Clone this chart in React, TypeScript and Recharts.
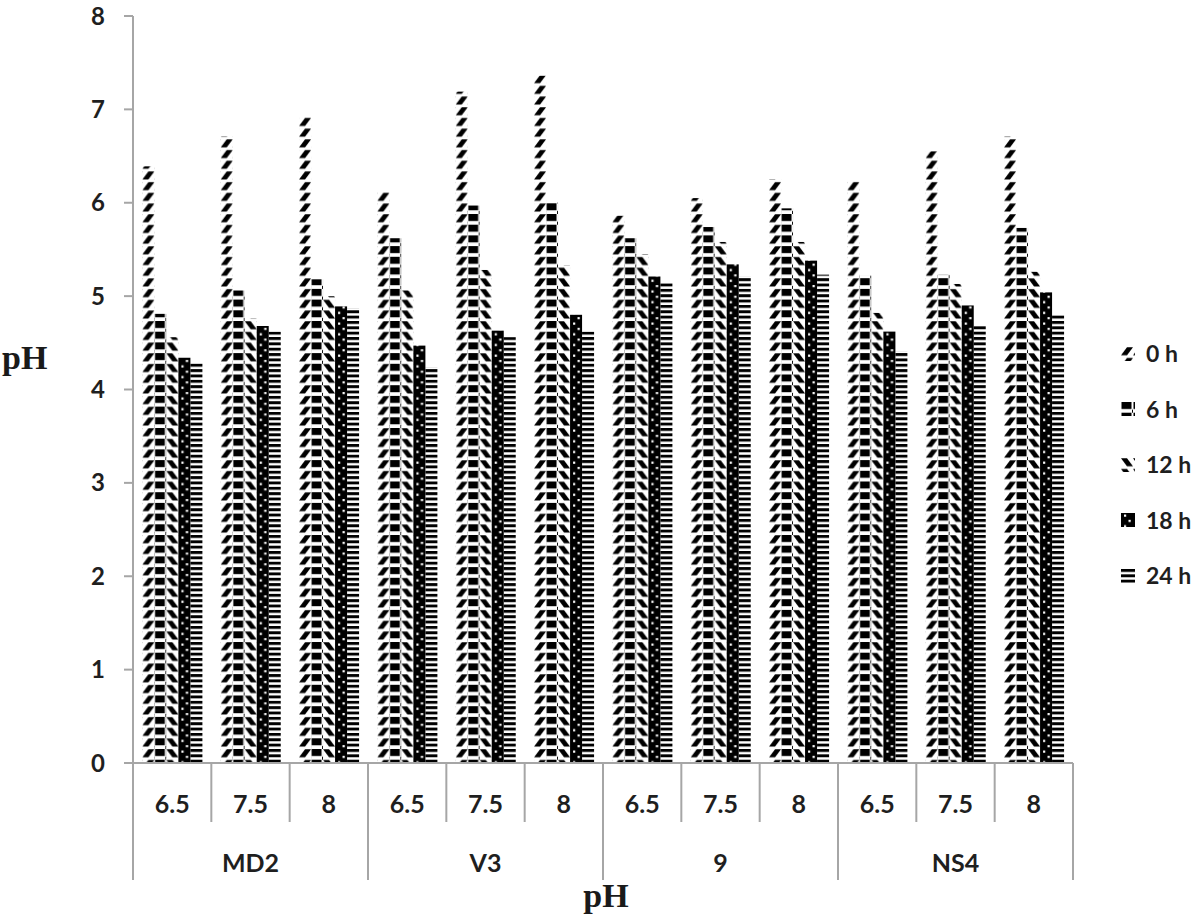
import { Bar, BarChart, XAxis, YAxis } from "recharts";

const STRAINS = ["MD2", "V3", "9", "NS4"];
const INITIAL_PH = ["6.5", "7.5", "8"];
const TIMES = ["0 h", "6 h", "12 h", "18 h", "24 h"];
const Y_TICKS = [0, 1, 2, 3, 4, 5, 6, 7, 8];

// pH measured after each incubation time, one value per strain / initial pH
const PH_0H = [6.39, 6.71, 6.92, 6.12, 7.19, 7.36, 5.86, 6.05, 6.25, 6.24, 6.55, 6.71];
const PH_6H = [4.81, 5.06, 5.18, 5.62, 5.97, 6.0, 5.62, 5.74, 5.94, 5.22, 5.23, 5.73];
const PH_12H = [4.56, 4.76, 5.0, 5.06, 5.28, 5.33, 5.45, 5.58, 5.58, 4.82, 5.13, 5.26];
const PH_18H = [4.34, 4.68, 4.89, 4.47, 4.63, 4.8, 5.21, 5.34, 5.38, 4.62, 4.9, 5.04];
const PH_24H = [4.29, 4.62, 4.87, 4.24, 4.56, 4.62, 5.14, 5.21, 5.23, 4.41, 4.69, 4.8];

const SERIES = [PH_0H, PH_6H, PH_12H, PH_18H, PH_24H];
const PATTERN_IDS = ["pat0", "pat6", "pat12", "pat18", "pat24"];

const data = STRAINS.flatMap((strain, s) =>
  INITIAL_PH.map((ph, p) => {
    const i = s * INITIAL_PH.length + p;
    const row: Record<string, string | number> = { key: `${strain}-${ph}` };
    TIMES.forEach((t, k) => {
      row[t] = SERIES[k][i];
    });
    return row;
  })
);

const AXIS_GRAY = "#a6a6a6";
const TEXT = "#1f1f1f";
const SANS = "Lato, 'Open Sans', sans-serif";
const SERIF = "'Liberation Serif', 'DejaVu Serif', serif";

function Patterns() {
  return (
    <svg width={0} height={0} style={{ position: "absolute" }}>
      <defs>
        <pattern id="pat0" patternUnits="userSpaceOnUse" width={12} height={10.7}>
          <polygon points="6,0.3 12,0.3 6,8.3 0,8.3" fill="#000" />
        </pattern>
        <pattern id="pat6" patternUnits="userSpaceOnUse" width={12} height={10.7}>
          <rect x={0.5} y={0} width={10} height={7} fill="#000" />
          <rect x={11} y={7.6} width={1} height={3.1} fill="#000" />
        </pattern>
        <pattern id="pat12" patternUnits="userSpaceOnUse" width={12} height={10.7}>
          <polygon points="0,0.3 6,0.3 12,8.3 6,8.3" fill="#000" />
        </pattern>
        <pattern id="pat18" patternUnits="userSpaceOnUse" width={12} height={10.7}>
          <rect x={0} y={0} width={12} height={10.7} fill="#000" />
          <rect x={3} y={1.5} width={2.2} height={2.2} fill="#fff" />
          <rect x={7.5} y={6.8} width={2.2} height={2.2} fill="#fff" />
        </pattern>
        <pattern id="pat24" patternUnits="userSpaceOnUse" width={12} height={5.35}>
          <rect x={0} y={0} width={12} height={2.9} fill="#000" />
        </pattern>
      </defs>
    </svg>
  );
}

// bar drawn in its own x-space so the pattern starts at the bar's left edge
const PatternBar = (props: any) => {
  const { x, y, width, height, fill } = props;
  if (!height || height <= 0) return null;
  return (
    <g transform={`translate(${x},0)`}>
      <rect x={0} y={y} width={width} height={height} fill={fill} />
    </g>
  );
};

const CategoryTick = (props: any) => {
  const { x, y, payload, index } = props;
  const i = payload?.index ?? index;
  const half = payload?.offset ?? 39;
  const left = x - half;
  const right = x + half;
  const last = i === data.length - 1;
  return (
    <g>
      <line x1={left} x2={left} y1={y} y2={y + (i % 3 === 0 ? 117 : 59)} stroke={AXIS_GRAY} strokeWidth={2} />
      {last && <line x1={right} x2={right} y1={y} y2={y + 117} stroke={AXIS_GRAY} strokeWidth={2} />}
      <text x={x} y={y + 40} textAnchor="middle" dominantBaseline="central" fontFamily={SANS} fontWeight={700} fontSize={25} fill={TEXT}>
        {INITIAL_PH[i % 3]}
      </text>
      {i % 3 === 1 && (
        <text x={x} y={y + 99} textAnchor="middle" dominantBaseline="central" fontFamily={SANS} fontWeight={700} fontSize={25} fill={TEXT}>
          {STRAINS[Math.floor(i / 3)]}
        </text>
      )}
    </g>
  );
};

const YTitle = (props: any) => {
  const vb = props.viewBox;
  return (
    <text x={2} y={vb.y + vb.height / 2 - 21} fontFamily={SERIF} fontWeight={700} fontSize={34} fill="#1a1a1a">
      pH
    </text>
  );
};

const XTitle = (props: any) => {
  const vb = props.viewBox;
  return (
    <text x={vb.x + vb.width / 2 + 3} y={vb.y + vb.height + 27} textAnchor="middle" fontFamily={SERIF} fontWeight={700} fontSize={34} fill="#1a1a1a">
      pH
    </text>
  );
};

function PatternLegend() {
  return (
    <div style={{ position: "absolute", left: 1121, top: 326 }}>
      {TIMES.map((t, k) => (
        <div key={t} style={{ display: "flex", alignItems: "center", height: 55.5 }}>
          <svg width={14} height={14} style={{ display: "block" }}>
            <rect x={0} y={0} width={14} height={14} fill={`url(#${PATTERN_IDS[k]})`} />
          </svg>
          <span style={{ marginLeft: 11, fontFamily: SANS, fontWeight: 700, fontSize: 23, color: TEXT, lineHeight: 1 }}>{t}</span>
        </div>
      ))}
    </div>
  );
}

export default function App() {
  return (
    <div style={{ position: "absolute", left: 0, top: 0, width: 1200, height: 915, background: "#fff" }}>
      <Patterns />
      <BarChart
        width={1200}
        height={915}
        data={data}
        margin={{ top: 16, right: 127, left: 0, bottom: 35 }}
        barCategoryGap="12%"
        barGap={0}
      >
        <XAxis
          dataKey="key"
          interval={0}
          height={117}
          tickSize={0}
          tickMargin={0}
          axisLine={{ stroke: AXIS_GRAY, strokeWidth: 2 }}
          tickLine={false}
          tick={(p: any) => <CategoryTick {...p} />}
          label={(p: any) => <XTitle {...p} />}
        />
        <YAxis
          width={133}
          domain={[0, 8]}
          ticks={Y_TICKS}
          interval={0}
          tickSize={9}
          tickMargin={19}
          axisLine={{ stroke: AXIS_GRAY, strokeWidth: 2 }}
          tickLine={{ stroke: AXIS_GRAY, strokeWidth: 2 }}
          tick={{ fontFamily: SANS, fontWeight: 700, fontSize: 24, fill: TEXT }}
          label={(p: any) => <YTitle {...p} />}
        />
        {TIMES.map((t, k) => (
          <Bar key={t} dataKey={t} fill={`url(#${PATTERN_IDS[k]})`} shape={PatternBar} isAnimationActive={false} />
        ))}
      </BarChart>
      <PatternLegend />
    </div>
  );
}
